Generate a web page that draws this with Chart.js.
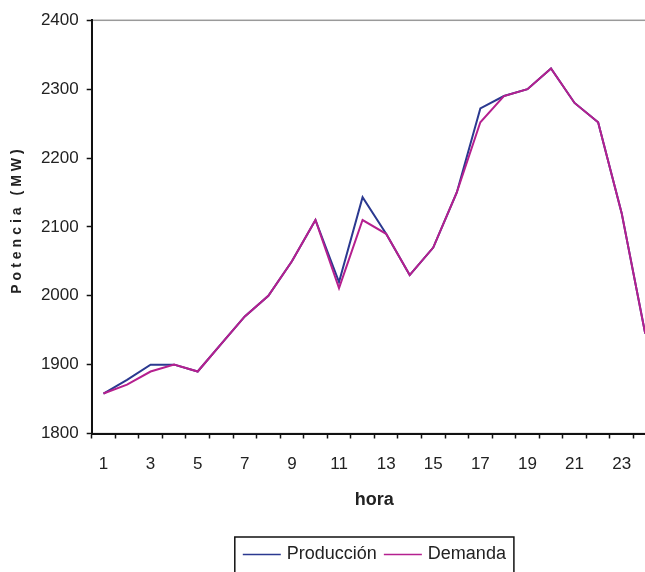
<!DOCTYPE html>
<html>
<head>
<meta charset="utf-8">
<script src="https://cdn.jsdelivr.net/npm/chart.js@4.4.1/dist/chart.umd.min.js"></script>
<style>
  html, body { margin: 0; padding: 0; background: #fff; overflow: hidden; }
  #wrap { width: 645px; height: 572px; overflow: hidden; }
  canvas { display: block; }
</style>
</head>
<body>
<div id="wrap"><canvas id="c" width="700" height="572"></canvas></div>
<script>
// Hours of the day
const horas = ['1','2','3','4','5','6','7','8','9','10','11','12',
               '13','14','15','16','17','18','19','20','21','22','23','24'];
// Generated power (MW)
const produccion = [1858, 1878, 1900, 1900, 1890, 1930, 1970, 2000, 2050, 2110, 2020, 2143,
                    2090, 2030, 2070, 2150, 2272, 2290, 2300, 2330, 2280, 2252, 2120, 1945];
// Demanded power (MW)
const demanda = [1858, 1871, 1890, 1900, 1890, 1930, 1970, 2000, 2050, 2110, 2011, 2110,
                 2090, 2030, 2070, 2150, 2252, 2290, 2300, 2330, 2280, 2252, 2120, 1945];
const yTitulo = 'Potencia (MW)';
const xTitulo = 'hora';

const FONT = "'Liberation Sans', Arial, sans-serif";
const TEXT = '#222';

// Gray frame around the plot area (axes are drawn over its left and bottom)
const frame = {
  id: 'frame',
  beforeDraw(chart) {
    const { ctx, chartArea: a } = chart;
    ctx.save();
    ctx.strokeStyle = '#9a9a9a';
    ctx.lineWidth = 1.5;
    ctx.strokeRect(a.left, a.top, a.right - a.left, a.bottom - a.top);
    ctx.restore();
  }
};

// Letter-spaced vertical axis title
const yTitle = {
  id: 'yTitle',
  afterDraw(chart) {
    const { ctx } = chart;
    ctx.save();
    ctx.font = 'bold 14px ' + FONT;
    ctx.fillStyle = TEXT;
    const ls = 4;
    ctx.letterSpacing = ls + 'px';
    const w = ctx.measureText(yTitulo).width;
    ctx.translate(17.5, 221.5);
    ctx.rotate(-Math.PI / 2);
    ctx.textAlign = 'left';
    ctx.textBaseline = 'middle';
    ctx.fillText(yTitulo, -(w - ls) / 2, 0);
    ctx.restore();
  }
};

// Boxed legend below the axis title
const boxLegend = {
  id: 'boxLegend',
  afterDraw(chart) {
    const { ctx } = chart;
    const sets = chart.data.datasets;
    ctx.save();
    ctx.font = '18px ' + FONT;
    const lineLen = 38, gapA = 6, gapB = 7, pad = 8;
    let total = 0;
    sets.forEach((d, i) => {
      total += lineLen + gapA + ctx.measureText(d.label).width;
      if (i < sets.length - 1) total += gapB;
    });
    const cx = (chart.chartArea.left + chart.chartArea.right) / 2;
    const boxL = cx - total / 2 - pad;
    const boxT = 537;
    ctx.strokeStyle = '#111';
    ctx.lineWidth = 1.5;
    ctx.strokeRect(boxL, boxT, total + 2 * pad, 45);
    let x = boxL + pad;
    const y = 554.5;
    sets.forEach((d) => {
      ctx.strokeStyle = d.borderColor;
      ctx.lineWidth = 1.5;
      ctx.beginPath();
      ctx.moveTo(x, y);
      ctx.lineTo(x + lineLen, y);
      ctx.stroke();
      x += lineLen + gapA;
      ctx.fillStyle = TEXT;
      ctx.textBaseline = 'middle';
      ctx.fillText(d.label, x, y - 0.5);
      x += ctx.measureText(d.label).width + gapB;
    });
    ctx.restore();
  }
};

new Chart(document.getElementById('c'), {
  type: 'line',
  data: {
    labels: horas,
    datasets: [
      { label: 'Producción', data: produccion, borderColor: '#2b3990', borderWidth: 2,
        pointRadius: 0, tension: 0, fill: false, order: 1 },
      { label: 'Demanda', data: demanda, borderColor: '#b5208f', borderWidth: 2,
        pointRadius: 0, tension: 0, fill: false, order: 0 }
    ]
  },
  options: {
    responsive: false,
    animation: false,
    devicePixelRatio: 1,
    layout: { padding: { top: 20.3, right: 43, bottom: 0, left: 0 } },
    plugins: { legend: { display: false }, tooltip: { enabled: false } },
    scales: {
      x: {
        offset: true,
        grid: { offset: true, drawOnChartArea: false, drawTicks: true, tickLength: 5,
                tickColor: '#111', tickWidth: 1.5 },
        border: { display: true, color: '#111', width: 2 },
        ticks: {
          autoSkip: false, maxRotation: 0, padding: 16,
          color: TEXT, font: { family: FONT, size: 17 },
          callback(v, i) { return i % 2 === 0 ? this.getLabelForValue(v) : ''; }
        },
        title: { display: true, text: xTitulo, color: TEXT,
                 font: { family: FONT, size: 18, weight: 'bold' },
                 padding: { top: 0, bottom: 61 } },
        afterFit(s) { s.height = 138.5; }
      },
      y: {
        min: 1800, max: 2400,
        grid: { drawOnChartArea: false, drawTicks: true, tickLength: 5,
                tickColor: '#111', tickWidth: 1.5 },
        border: { display: true, color: '#111', width: 2 },
        ticks: { stepSize: 100, padding: 8, color: TEXT, font: { family: FONT, size: 17 },
                 callback(v) { return String(v); } },
        afterFit(s) { s.width = 91.7; }
      }
    }
  },
  plugins: [frame, yTitle, boxLegend]
});
</script>
</body>
</html>
